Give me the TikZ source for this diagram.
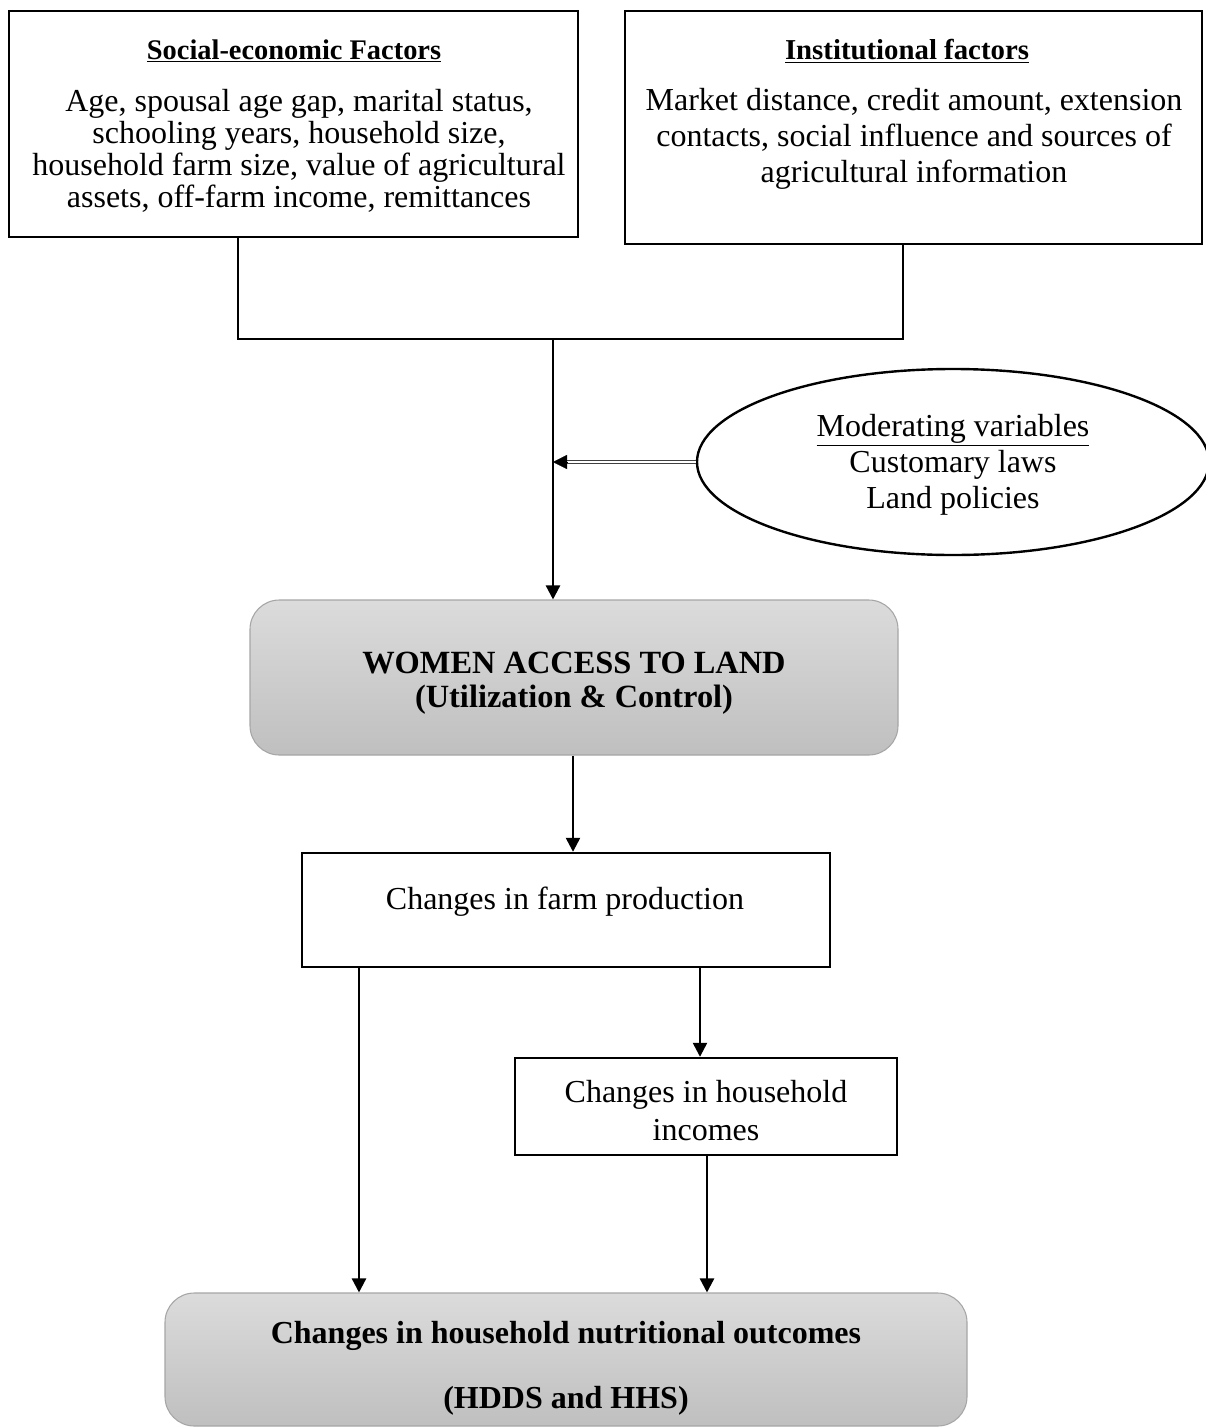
\documentclass[tikz,border=0pt]{standalone}
\usepackage{fontspec}
\setmainfont{Liberation Serif}
\usetikzlibrary{arrows.meta,calc,shapes.geometric}
\begin{document}
\begin{tikzpicture}[x=0.75pt,y=-0.75pt,
  boxline/.style={draw=black,line width=1.8pt,inner sep=0pt},
  conn/.style={line width=1.8pt},
  arr/.style={line width=1.8pt,-{Triangle[width=10.5pt,length=10.5pt]}},
  gbox/.style={draw=gray!70,line width=0.8pt,rounded corners=22pt,top color=gray!28,bottom color=gray!50,inner sep=0pt},
  txt/.style={align=center,inner sep=0pt,font=\fontsize{24}{24}\selectfont},
]
\useasboundingbox (0,0) rectangle (1206,1428);
% boxes
\node[boxline,minimum width=426.75pt,minimum height=169.5pt] (se) at (293.5,124) {};
\node[boxline,minimum width=432.75pt,minimum height=174.75pt] (inst) at (913.5,127.5) {};
\node[gbox,minimum width=486pt,minimum height=116.25pt] (women) at (574,677.5) {};
\node[boxline,minimum width=396pt,minimum height=85.5pt] (farm) at (566,910) {};
\node[boxline,minimum width=286.5pt,minimum height=72.75pt] (inc) at (706,1106.5) {};
\node[gbox,minimum width=601.5pt,minimum height=99.75pt] (nut) at (566,1359.5) {};
\node[draw,ellipse,line width=1.8pt,minimum width=384pt,minimum height=139.5pt,inner sep=0pt] (mod) at (953,462) {};
% texts
\node[txt,font=\fontsize{21.3}{24}\selectfont\bfseries] (setitle) at (294,51) {\underline{Social-economic Factors}};
\node[txt] (sebody) at (299,151) {Age, spousal age gap, marital status,\\schooling years, household size,\\household farm size, value of agricultural\\assets, off-farm income, remittances};
\node[txt,font=\fontsize{21.6}{24}\selectfont\bfseries] (insttitle) at (907,51) {\underline{Institutional factors}};
\node[txt,font=\fontsize{24}{27}\selectfont] (instbody) at (914,139) {Market distance, credit amount, extension\\contacts, social influence and sources of\\agricultural information};
\node[txt,font=\fontsize{24}{27}\selectfont] (modtext) at (953,465) {\underline{Moderating variables}\\Customary laws\\Land policies};
\node[txt,font=\fontsize{24.3}{25.5}\selectfont\bfseries] (womentext) at (574,683) {WOMEN ACCESS TO LAND\\(Utilization \& Control)};
\node[txt] (farmtext) at (565,902) {Changes in farm production};
\node[txt,font=\fontsize{24}{28.5}\selectfont] (inctext) at (706,1111) {Changes in household\\incomes};
\node[txt,font=\fontsize{24}{48.75}\selectfont\bfseries] (nuttext) at (566,1368) {Changes in household nutritional outcomes\\(HDDS and HHS)};
% junction coordinates
\coordinate (jl) at (238,339);
\coordinate (jr) at (903,339);
\coordinate (jm) at (553,339);
% connectors
\draw[conn] (se.south -| jl) -- (jl) -- (jr) -- (inst.south -| jr);
\draw[arr] (jm) -- (women.north -| jm);
\coordinate (mj) at (mod.west -| jm);
\draw[line width=0.55pt,draw=black!75,double=white,double distance=1.3pt,shorten >=8pt] (mod.west) -- (mj);
\draw[-{Triangle[width=10.5pt,length=10.5pt]},line width=0.1pt] ($(mj)+(14,0)$) -- (mj);
\draw[arr] (women.south -| 573,0) -- (farm.north -| 573,0);
\draw[arr] (farm.south -| 359,0) -- (nut.north -| 359,0);
\draw[arr] (farm.south -| 700,0) -- (inc.north -| 700,0);
\draw[arr] (inc.south -| 707,0) -- (nut.north -| 707,0);
\end{tikzpicture}
\end{document}
